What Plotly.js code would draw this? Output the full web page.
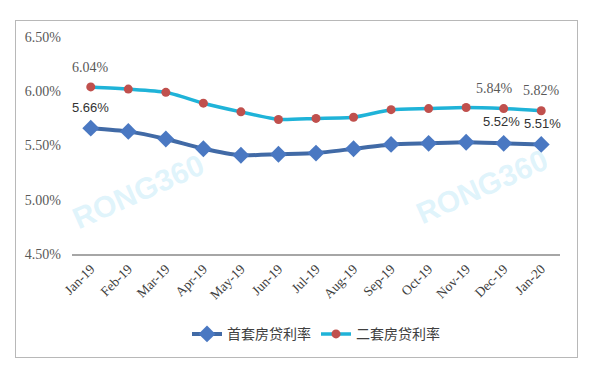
<!DOCTYPE html>
<html><head><meta charset="utf-8">
<script src="https://cdn.plot.ly/plotly-3.0.1.min.js"></script>
<style>
body{margin:0;background:#fff;}
#wrap{position:relative;width:600px;height:372px;}
#chart{width:600px;height:372px;}
#frame{position:absolute;left:15px;top:20px;width:561px;height:336px;border:1.5px solid #b8b8b8;pointer-events:none;}
</style></head>
<body>
<div id="wrap"><div id="chart"></div><div id="frame"></div></div>
<script>
const months = ["Jan-19","Feb-19","Mar-19","Apr-19","May-19","Jun-19","Jul-19","Aug-19","Sep-19","Oct-19","Nov-19","Dec-19","Jan-20"];
const firstHome = [5.66,5.63,5.56,5.47,5.41,5.42,5.43,5.47,5.51,5.52,5.53,5.52,5.51];
const secondHome = [6.04,6.02,5.99,5.89,5.81,5.74,5.75,5.76,5.83,5.84,5.85,5.84,5.82];
const seriesNames = ["首套房贷利率","二套房贷利率"];
const yTicks = [4.5,5.0,5.5,6.0,6.5];
const yTickText = ["4.50%","5.00%","5.50%","6.00%","6.50%"];

const serif = "Liberation Serif, DejaVu Serif, serif";
const sans = "Liberation Sans, Arial, sans-serif";
const traces = [
  {x: months, y: firstHome, name: seriesNames[0], type:"scatter", mode:"lines+markers",
   line:{color:"#416aa6", width:4, shape:"spline", smoothing:0.6},
   marker:{symbol:"diamond", size:13, color:"#4a78c2"}},
  {x: months, y: secondHome, name: seriesNames[1], type:"scatter", mode:"lines+markers",
   line:{color:"#1fb3d8", width:3.5, shape:"spline", smoothing:0.6},
   marker:{symbol:"circle", size:9, color:"#c0504d"}}
];

const fmt = v => v.toFixed(2) + "%";
const last = months.length - 1;
const annotations = [
  {x: months[0], y: secondHome[0], text: fmt(secondHome[0]), yshift: 19, font:{family:serif, size:14, color:"#595959"}},
  {x: months[0], y: firstHome[0], text: fmt(firstHome[0]), yshift: 21, font:{family:sans, size:13, color:"#333"}},
  {x: months[last-1], y: secondHome[last-1], text: fmt(secondHome[last-1]), yshift: 20, xshift:-9, font:{family:serif, size:14, color:"#595959"}},
  {x: months[last], y: secondHome[last], text: fmt(secondHome[last]), yshift: 20, font:{family:serif, size:14, color:"#595959"}},
  {x: months[last-1], y: firstHome[last-1], text: fmt(firstHome[last-1]), yshift: 22, xshift:-2, font:{family:sans, size:13, color:"#333"}},
  {x: months[last], y: firstHome[last], text: fmt(firstHome[last]), yshift: 21, xshift:1, font:{family:sans, size:13, color:"#333"}}
].map(a => Object.assign({xref:"x", yref:"y", showarrow:false}, a));

annotations.push(
  {xref:"paper", yref:"paper", x:0.135, y:0.29, xanchor:"center", yanchor:"middle", text:"<b>RONG360</b>", showarrow:false, textangle:-24,
   font:{family:sans, size:30, color:"rgba(185,230,248,0.45)"}},
  {xref:"paper", yref:"paper", x:0.84, y:0.31, xanchor:"center", yanchor:"middle", text:"<b>RONG360</b>", showarrow:false, textangle:-24,
   font:{family:sans, size:30, color:"rgba(185,230,248,0.45)"}}
);

const layout = {
  width:600, height:372,
  margin:{l:72, r:40, t:37, b:118},
  paper_bgcolor:"rgba(0,0,0,0)", plot_bgcolor:"rgba(0,0,0,0)",
  showlegend:true,
  legend:{orientation:"h", x:0.5, xanchor:"center", y:-0.37, yanchor:"middle",
          font:{family:"Noto Sans CJK SC, sans-serif", size:14, color:"#404040"}},
  xaxis:{type:"category", range:[-0.5, 12.5], showgrid:false, zeroline:false,
         showline:true, linecolor:"#a6a6a6", linewidth:1.5, ticks:"",
         tickangle:-45, tickfont:{family:serif, size:13.5, color:"#404040"}},
  yaxis:{range:[4.5, 6.5], tickvals:yTicks, ticktext:yTickText, showgrid:false, zeroline:false,
         showline:false, ticks:"", ticklabelstandoff:10,
         tickfont:{family:serif, size:14, color:"#595959"}},
  annotations: annotations
};
Plotly.newPlot("chart", traces, layout, {displayModeBar:false});
</script>
</body></html>
